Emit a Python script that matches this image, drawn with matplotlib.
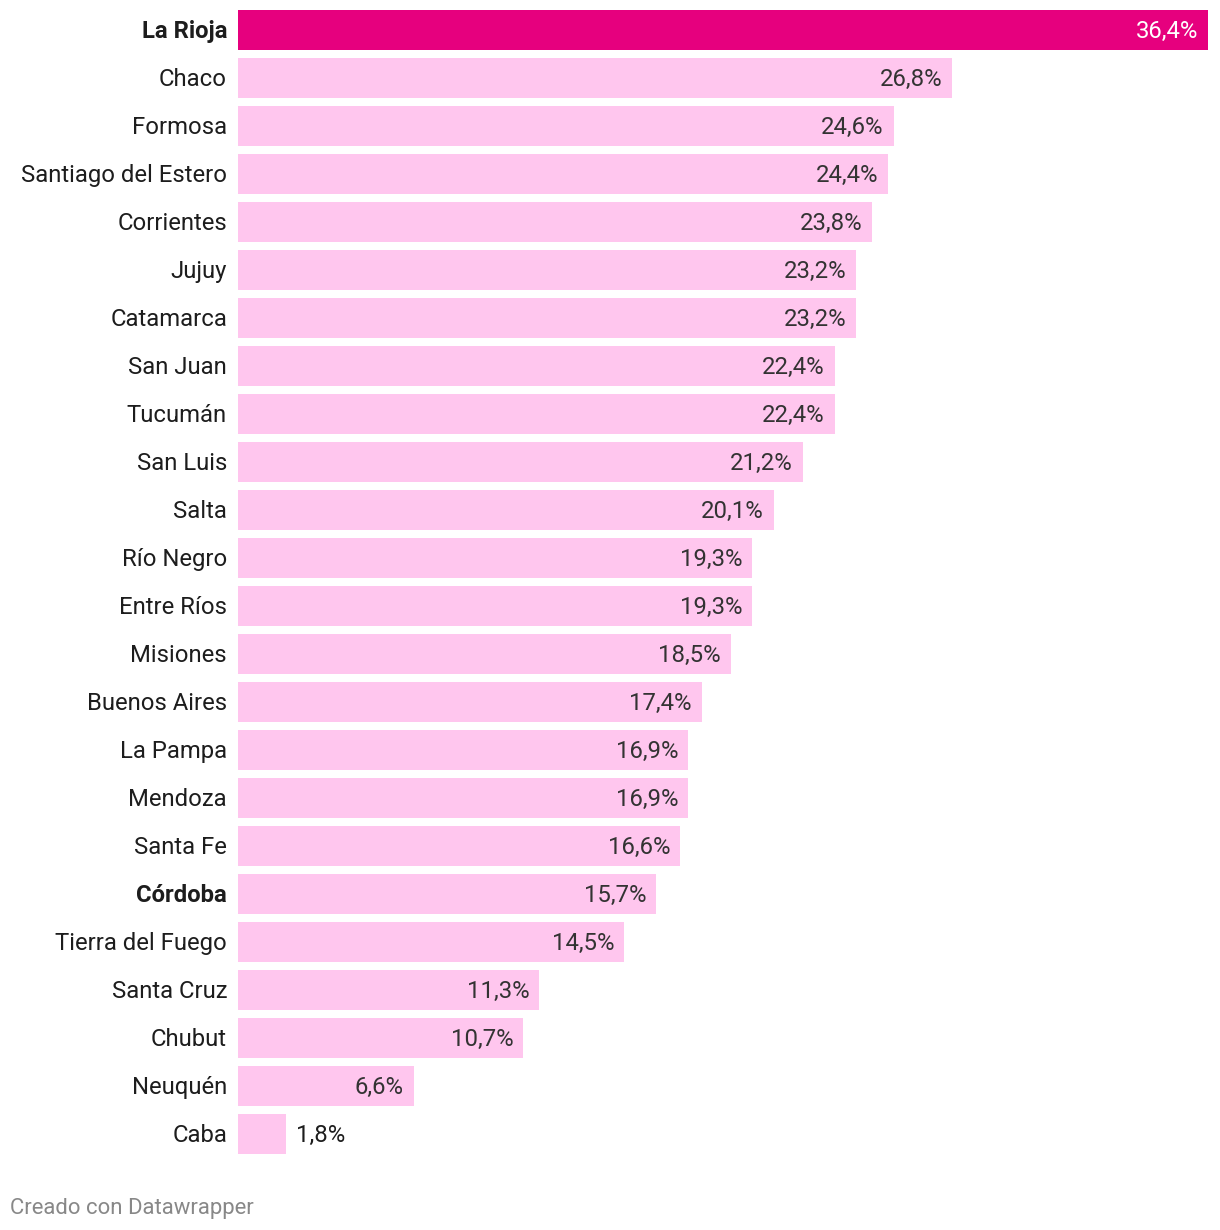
import matplotlib
matplotlib.use("Agg")
import matplotlib.pyplot as plt

provinces = ["La Rioja", "Chaco", "Formosa", "Santiago del Estero", "Corrientes",
             "Jujuy", "Catamarca", "San Juan", "Tucumán", "San Luis", "Salta",
             "Río Negro", "Entre Ríos", "Misiones", "Buenos Aires", "La Pampa",
             "Mendoza", "Santa Fe", "Córdoba", "Tierra del Fuego", "Santa Cruz",
             "Chubut", "Neuquén", "Caba"]
values = [36.4, 26.8, 24.6, 24.4, 23.8, 23.2, 23.2, 22.4, 22.4, 21.2, 20.1,
          19.3, 19.3, 18.5, 17.4, 16.9, 16.9, 16.6, 15.7, 14.5, 11.3, 10.7, 6.6, 1.8]
highlight = ["La Rioja"]
bold_labels = ["La Rioja", "Córdoba"]

plt.rcParams['font.family'] = ['Roboto', 'DejaVu Sans']

W, H = 1220, 1230
fig = plt.figure(figsize=(W / 100, H / 100), dpi=100)
top_px, bot_px = 6, 1158
ax = fig.add_axes([238 / W, 1 - bot_px / H, (1208 - 238) / W, (bot_px - top_px) / H])

y = list(range(len(provinces)))
colors = ['#e6007e' if p in highlight else '#ffc6ee' for p in provinces]
ax.barh(y, values, height=40 / 48, color=colors, edgecolor='none')
ax.set_xlim(0, max(values))
ax.set_ylim(len(provinces) - 0.5, -0.5)
ax.axis('off')

fs = 17.2
for i, (p, v) in enumerate(zip(provinces, values)):
    lab = f"{v:.1f}".replace('.', ',') + '%'
    ax.annotate(p, (0, i), xytext=(-11, 1), textcoords='offset pixels',
                ha='right', va='center_baseline', fontsize=fs, color='#1d1d1d',
                fontweight='bold' if p in bold_labels else 'normal')
    if v < 4:
        ax.annotate(lab, (v, i), xytext=(10, 1), textcoords='offset pixels',
                    ha='left', va='center_baseline', fontsize=fs, color='#1d1d1d')
    else:
        c = 'white' if p in highlight else '#333333'
        ax.annotate(lab, (v, i), xytext=(-10, 1), textcoords='offset pixels',
                    ha='right', va='center_baseline', fontsize=fs, color=c)

fig.text(10 / W, 1 - 1206 / H, "Creado con Datawrapper", fontsize=15.9,
         color='#888888', ha='left', va='center_baseline')

fig.savefig("out.png", dpi=100)
